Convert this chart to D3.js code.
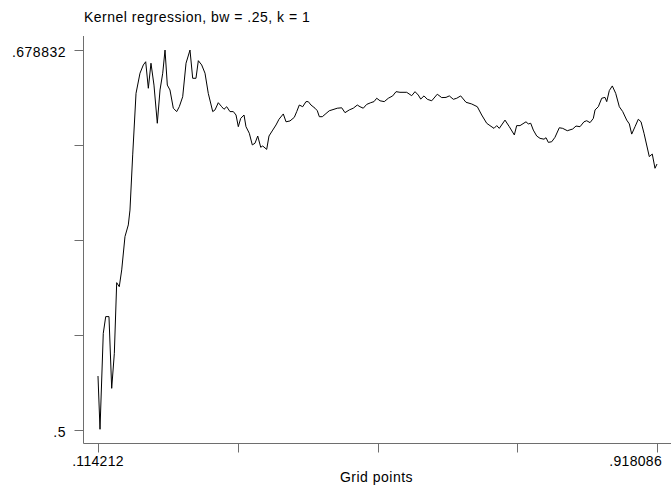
<!DOCTYPE html>
<meta charset="utf-8">
<style>
body { margin: 0; background: #fff; }
svg text {
  font-family: Arial, "Liberation Sans", Helvetica, sans-serif;
  font-size: 14px;
  fill: #000;
}
.axis line, .axis path { stroke: #6e6e6e; }
.curve { fill: none; stroke: #000; stroke-width: 1px; }
</style>
<body>
<script src="https://cdn.jsdelivr.net/npm/d3@7"></script>
<script>

var title = "Kernel regression, bw = .25, k = 1"
var xTitle = "Grid points"

// grid points and smoothed values
var gridX = [0.1142,0.1171,0.1218,0.1253,0.1300,0.1339,0.1377,0.1411,0.1448,0.1483,
  0.1530,0.1578,0.1602,0.1641,0.1689,0.1746,0.1794,0.1828,0.1866,0.1904,
  0.1947,0.1995,0.2034,0.2073,0.2106,0.2139,0.2177,0.2225,0.2274,0.2311,
  0.2360,0.2408,0.2465,0.2504,0.2551,0.2585,0.2633,0.2681,0.2728,0.2792,
  0.2825,0.2872,0.2921,0.2954,0.2993,0.3040,0.3088,0.3127,0.3160,0.3194,
  0.3242,0.3270,0.3318,0.3361,0.3400,0.3439,0.3482,0.3511,0.3568,0.3601,
  0.3655,0.3702,0.3745,0.3807,0.3846,0.3903,0.3965,0.4000,0.4037,0.4086,
  0.4133,0.4166,0.4205,0.4263,0.4296,0.4325,0.4368,0.4407,0.4468,0.4536,
  0.4583,0.4647,0.4694,0.4756,0.4813,0.4871,0.4910,0.4957,0.5006,0.5064,
  0.5111,0.5150,0.5198,0.5259,0.5317,0.5380,0.5428,0.5485,0.5581,0.5653,
  0.5701,0.5748,0.5783,0.5830,0.5878,0.5941,0.6021,0.6085,0.6147,0.6194,
  0.6252,0.6301,0.6358,0.6434,0.6516,0.6597,0.6660,0.6732,0.6779,0.6837,
  0.6876,0.6913,0.6995,0.7057,0.7129,0.7163,0.7211,0.7297,0.7330,0.7365,
  0.7402,0.7451,0.7499,0.7556,0.7585,0.7618,0.7667,0.7714,0.7776,0.7825,
  0.7891,0.7969,0.8016,0.8074,0.8131,0.8170,0.8218,0.8265,0.8290,0.8337,
  0.8386,0.8433,0.8458,0.8495,0.8538,0.8587,0.8639,0.8688,0.8745,0.8783,
  0.8817,0.8865,0.8912,0.8951,0.8994,0.9070,0.9113,0.9152,0.9181]

var smoothY = [0.5252,0.5001,0.5453,0.5532,0.5532,0.5194,0.5359,0.5692,0.5673,0.5752,
  0.5909,0.5964,0.6034,0.6294,0.6584,0.6679,0.6718,0.6733,0.6608,0.6726,
  0.6623,0.6443,0.6600,0.6679,0.6788,0.6623,0.6600,0.6514,0.6498,0.6521,
  0.6568,0.6726,0.6788,0.6655,0.6655,0.6738,0.6718,0.6679,0.6584,0.6498,
  0.6506,0.6540,0.6521,0.6509,0.6521,0.6498,0.6498,0.6482,0.6427,0.6466,
  0.6482,0.6427,0.6396,0.6341,0.6349,0.6383,0.6330,0.6336,0.6320,0.6383,
  0.6411,0.6435,0.6462,0.6487,0.6450,0.6454,0.6471,0.6498,0.6529,0.6521,
  0.6545,0.6545,0.6529,0.6514,0.6502,0.6474,0.6474,0.6485,0.6502,0.6509,
  0.6514,0.6516,0.6493,0.6506,0.6514,0.6529,0.6521,0.6514,0.6532,0.6540,
  0.6545,0.6561,0.6549,0.6545,0.6561,0.6572,0.6592,0.6589,0.6589,0.6573,
  0.6592,0.6576,0.6557,0.6572,0.6556,0.6549,0.6580,0.6564,0.6565,0.6572,
  0.6556,0.6561,0.6572,0.6542,0.6534,0.6521,0.6482,0.6443,0.6432,0.6419,
  0.6432,0.6419,0.6458,0.6427,0.6388,0.6432,0.6432,0.6450,0.6440,0.6443,
  0.6411,0.6383,0.6372,0.6368,0.6375,0.6353,0.6356,0.6377,0.6422,0.6419,
  0.6408,0.6416,0.6430,0.6427,0.6450,0.6455,0.6446,0.6466,0.6506,0.6521,
  0.6561,0.6565,0.6545,0.6597,0.6619,0.6584,0.6521,0.6498,0.6458,0.6440,
  0.6392,0.6427,0.6462,0.6450,0.6396,0.6286,0.6298,0.6231,0.6251]

var xTicks = [0.114212, 0.315181, 0.516149, 0.717118, 0.918086]
var yTicks = [0.5, 0.544708, 0.589416, 0.634124, 0.678832]
var xTickLabels = [".114212", "", "", "", ".918086"]
var yTickLabels = [".5", "", "", "", ".678832"]

var width = 671,
    height = 489;

var svg = d3.select("body").append("svg")
    .attr("width", width)
    .attr("height", height);

var x = d3.scaleLinear().domain([xTicks[0], xTicks[4]]).range([98, 657]);
var y = d3.scaleLinear().domain([yTicks[0], yTicks[4]]).range([429.5, 50]);

// axes lines drawn by hand (Stata style: axis spans whole plot region)
var axisX = 83.5, axisY = 443.5;

var yAxis = svg.append("g").attr("class", "axis");
yAxis.append("line")
    .attr("x1", axisX).attr("x2", axisX)
    .attr("y1", 36).attr("y2", axisY);
yAxis.selectAll(".tick")
  .data(yTicks)
  .enter().append("line")
    .attr("x1", axisX - 9).attr("x2", axisX)
    .attr("y1", d => Math.round(y(d)) + 0.5)
    .attr("y2", d => Math.round(y(d)) + 0.5);
svg.selectAll(".ylab")
  .data(yTicks)
  .enter().append("text")
    .attr("x", 66)
    .attr("y", d => y(d) + 7)
    .attr("text-anchor", "end")
    .style("letter-spacing", "0.5px")
    .text((d, i) => yTickLabels[i]);

var xAxis = svg.append("g").attr("class", "axis");
xAxis.append("line")
    .attr("x1", axisX).attr("x2", width)
    .attr("y1", axisY).attr("y2", axisY);
xAxis.selectAll(".tick")
  .data(xTicks)
  .enter().append("line")
    .attr("x1", d => Math.round(x(d)) + 0.5)
    .attr("x2", d => Math.round(x(d)) + 0.5)
    .attr("y1", axisY).attr("y2", axisY + 9);
svg.selectAll(".xlab")
  .data(xTicks)
  .enter().append("text")
    .attr("x", (d, i) => i == 4 ? x(d) + 5 : x(d))
    .attr("y", 466)
    .attr("text-anchor", (d, i) => i == 4 ? "end" : "middle")
    .style("letter-spacing", "0.3px")
    .text((d, i) => xTickLabels[i]);

svg.append("text")
    .attr("x", (x(xTicks[0]) + x(xTicks[4])) / 2 - 1)
    .attr("y", 482)
    .attr("text-anchor", "middle")
    .style("letter-spacing", "0.5px")
    .text(xTitle);

svg.append("text")
    .attr("x", 84)
    .attr("y", 22)
    .style("letter-spacing", "0.5px")
    .text(title);

var line = d3.line()
    .x((d, i) => x(gridX[i]))
    .y(d => y(d));

svg.append("path")
    .attr("class", "curve")
    .attr("d", line(smoothY));

</script>
</body>
</html>
